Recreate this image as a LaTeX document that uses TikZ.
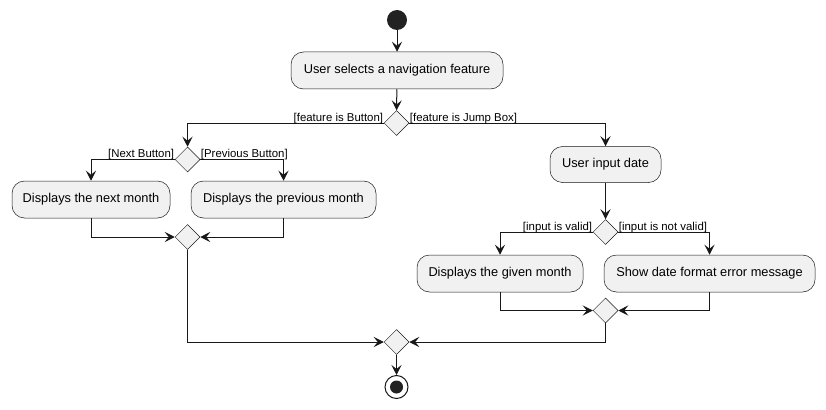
\documentclass[tikz,border=0pt]{standalone}
\usepackage{fontspec}
\setmainfont{Liberation Sans}
\usetikzlibrary{shapes.geometric,arrows.meta}
\definecolor{boxfill}{HTML}{F1F1F1}
\definecolor{ink}{HTML}{181818}
\definecolor{dot}{HTML}{222222}
\tikzset{
  act/.style={draw=ink, line width=0.5pt, fill=boxfill, rounded corners=12.5pt,
    minimum height=37pt, inner sep=0pt, font=\fontsize{12.8}{15}\selectfont},
  dec/.style={diamond, draw=ink, line width=0.5pt, fill=boxfill, inner sep=0pt,
    minimum width=25pt, minimum height=25pt},
  arr/.style={draw=ink, line width=1pt, -{Stealth[length=10pt,width=10pt,inset=4pt]}},
  guard/.style={font=\fontsize{11.4}{13}\selectfont, inner sep=0.5pt, text=black},
}
\begin{document}
\begin{tikzpicture}[x=1pt,y=-1pt]
\useasboundingbox[fill=white] (0,0) rectangle (826,409);
% start
\node[circle, fill=dot, minimum size=20pt, inner sep=0pt] (start) at (397,20) {};
\node[act, minimum width=212pt] (a1) at (397,70.5) {User selects a navigation feature};
\node[dec] (d1) at (396.5,123) {};
% left branch
\node[dec] (d2) at (187.5,159.5) {};
\node[act, minimum width=158pt] (n1) at (91,199.5) {Displays the next month};
\node[act, minimum width=185pt] (p1) at (283.5,199.5) {Displays the previous month};
\node[dec] (d3) at (187.5,237) {};
% right branch
\node[act, minimum width=111pt, minimum height=36pt] (u1) at (605.5,164.5) {User input date};
\node[dec] (d4) at (605.5,232) {};
\node[act, minimum width=166pt] (g1) at (500,273.5) {Displays the given month};
\node[act, minimum width=211pt] (e1) at (709.5,273.5) {Show date format error message};
\node[dec] (d5) at (605.5,310.5) {};
% final merge and end
\node[dec] (m) at (396.5,342) {};
\node[circle, draw=ink, line width=1pt, fill=white, minimum size=23pt, inner sep=0pt] (end) at (396.5,387) {};
\node[circle, fill=dot, minimum size=13pt, inner sep=0pt] (endin) at (end.center) {};
% connectors
\draw[arr] (start) -- (a1);
\draw[arr] (a1) -- (d1);
\draw[arr] (d1.west) -| (d2.north);
\draw[arr] (d1.east) -| (u1.north);
\draw[arr] (d2.west) -| (n1.north);
\draw[arr] (d2.east) -| (p1.north);
\draw[arr] (n1.south) |- (d3.west);
\draw[arr] (p1.south) |- (d3.east);
\draw[arr] (d3.south) |- (m.west);
\draw[arr] (u1) -- (d4);
\draw[arr] (d4.west) -| (g1.north);
\draw[arr] (d4.east) -| (e1.north);
\draw[arr] (g1.south) |- (d5.west);
\draw[arr] (e1.south) |- (d5.east);
\draw[arr] (d5.south) |- (m.east);
\draw[arr] (m) -- (end);
% guards
\node[guard, anchor=south east] (l1) at ([yshift=-1.5pt]d1.west) {[feature is Button]};
\node[guard, anchor=south west] (l2) at ([yshift=-1.5pt]d1.east) {[feature is Jump Box]};
\node[guard, anchor=south east] (l3) at ([yshift=-1.5pt]d2.west) {[Next Button]};
\node[guard, anchor=south west] (l4) at ([yshift=-1.5pt]d2.east) {[Previous Button]};
\node[guard, anchor=south east] (l5) at ([yshift=-1.5pt]d4.west) {[input is valid]};
\node[guard, anchor=south west] (l6) at ([yshift=-1.5pt]d4.east) {[input is not valid]};
\end{tikzpicture}
\end{document}
